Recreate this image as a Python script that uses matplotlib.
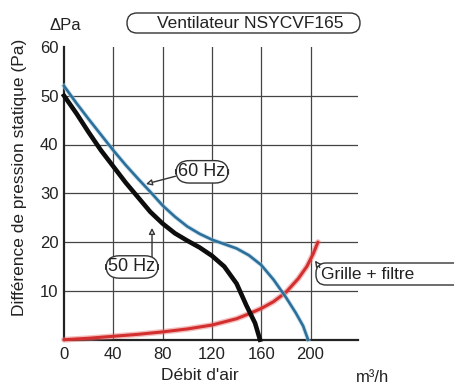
import matplotlib
matplotlib.use("Agg")
import matplotlib.pyplot as plt
from matplotlib.patches import FancyBboxPatch

plt.rcParams['font.family'] = ['Liberation Sans', 'DejaVu Sans']

# ---- data ----
x_50 = [0, 10, 20, 30, 40, 50, 60, 70, 80, 90, 100, 110, 120, 130, 140, 148, 155, 159]
y_50 = [50, 46.4, 42.5, 38.8, 35.5, 32.2, 29.2, 26.2, 23.8, 21.8, 20.3, 18.9, 17.2, 15.0, 11.5, 7.0, 3.4, 0]

x_60 = [0, 10, 20, 30, 40, 50, 60, 70, 80, 90, 100, 110, 120, 130, 140, 150, 160, 170, 180, 188, 194, 198]
y_60 = [52, 48.5, 45.2, 42, 38.8, 35.8, 33, 30.3, 27.5, 25.2, 23.2, 21.7, 20.5, 19.6, 18.7, 17.3, 15.3, 12.3, 8.7, 5.5, 2.8, 0]

x_grille = [0, 20, 40, 60, 80, 100, 120, 140, 150, 160, 170, 180, 190, 197, 202, 206]
y_grille = [0, 0.3, 0.7, 1.1, 1.6, 2.2, 3.0, 4.3, 5.3, 6.4, 7.8, 9.7, 12.5, 15, 17.5, 20]

x_ticks = [0, 40, 80, 120, 160, 200]
y_ticks = [10, 20, 30, 40, 50, 60]

W, H = 454, 389
fig = plt.figure(figsize=(W / 100, H / 100), dpi=100)
ax = fig.add_axes([64 / W, 1 - 339.7 / H, (358 - 64) / W, (339.7 - 46.9) / H])

ax.set_xlim(0, 238.5)
ax.set_ylim(0, 60)

# grid
grid_c = '#444444'
for xv in x_ticks[1:]:
    ax.axvline(xv, color=grid_c, lw=0.9, zorder=1)
for yv in y_ticks[:-1]:
    ax.axhline(yv, color=grid_c, lw=0.9, zorder=1)

for s in ['top', 'right']:
    ax.spines[s].set_visible(False)
for s in ['left', 'bottom']:
    ax.spines[s].set_linewidth(1.6)
    ax.spines[s].set_color('#222222')

ax.set_xticks(x_ticks)
ax.set_yticks(y_ticks)
ax.tick_params(length=0, labelsize=12, colors='#222222')
ax.tick_params(axis='x', pad=5)
ax.tick_params(axis='y', pad=4)

# curves
ax.plot(x_grille, y_grille, color='#e87070', lw=4.2, alpha=0.45, zorder=3, solid_capstyle='round', clip_on=False)
ax.plot(x_grille, y_grille, color='#d42f2f', lw=2.2, zorder=4, solid_capstyle='round', clip_on=False)
ax.plot(x_60, y_60, color='#a9cde0', lw=3.2, alpha=0.6, zorder=4, clip_on=False)
ax.plot(x_60, y_60, color='#2c6f9a', lw=1.9, zorder=5, clip_on=False)
ax.plot(x_50, y_50, color='#0d0d0d', lw=3.3, zorder=6, clip_on=False)

# annotations
lab_box = dict(boxstyle='round,pad=0.15,rounding_size=0.75', fc='white', ec='#333333', lw=1.0)
arrow = dict(arrowstyle='-|>,head_length=0.35,head_width=0.18', fc='white', ec='#333333', lw=1.0, shrinkA=0, shrinkB=0)

ax.text(112, 34.4, '60 Hz', fontsize=13, ha='center', va='center', bbox=lab_box, zorder=8, color='#222222')
ax.annotate('', xy=(66.5, 31.9), xytext=(90.5, 33.5), arrowprops=arrow, zorder=7)

ax.text(55.2, 14.9, '50 Hz', fontsize=13, ha='center', va='center', bbox=lab_box, zorder=8, color='#222222')
ax.annotate('', xy=(71.4, 22.9), xytext=(71.4, 16.7), arrowprops=arrow, zorder=7)

def pill(x0, y0, x1, y1, r, target, z):
    p = FancyBboxPatch((x0 / 100, (H - y1) / 100), (x1 - x0) / 100, (y1 - y0) / 100,
                       boxstyle=f'round,pad=0,rounding_size={r}', transform=fig.dpi_scale_trans,
                       fc='white', ec='#333333', lw=1.0, zorder=z, clip_on=False)
    target.add_artist(p)

pill(316, 263, 470, 285, 0.1, ax, 8)
ax.text(208.3, 13.3, 'Grille + filtre', fontsize=12.5, ha='left', va='center', zorder=10, color='#222222', clip_on=False)
ax.annotate('', xy=(203.6, 16.2), xytext=(207.5, 14.8), arrowprops=arrow, zorder=9, annotation_clip=False)

pill(127, 13, 360, 33, 0.1, fig, 8)

# figure texts
fig.text(250 / W, 1 - 23 / H, 'Ventilateur NSYCVF165', fontsize=12.5, ha='center', va='center', color='#222222', zorder=9)
fig.text(65 / W, 1 - 25 / H, 'ΔPa', fontsize=12, ha='center', va='center', color='#222222')
fig.text(20 / W, 1 - 177 / H, 'Différence de pression statique (Pa)', fontsize=12.5, rotation=90,
         ha='center', va='center', color='#222222')
fig.text(200 / W, 1 - 375 / H, "Débit d'air", fontsize=12.5, ha='center', va='center', color='#222222')
fig.text(373 / W, 1 - 378 / H, 'm³/h', fontsize=12, ha='center', va='center', color='#222222')

fig.savefig('out.png', dpi=100)
